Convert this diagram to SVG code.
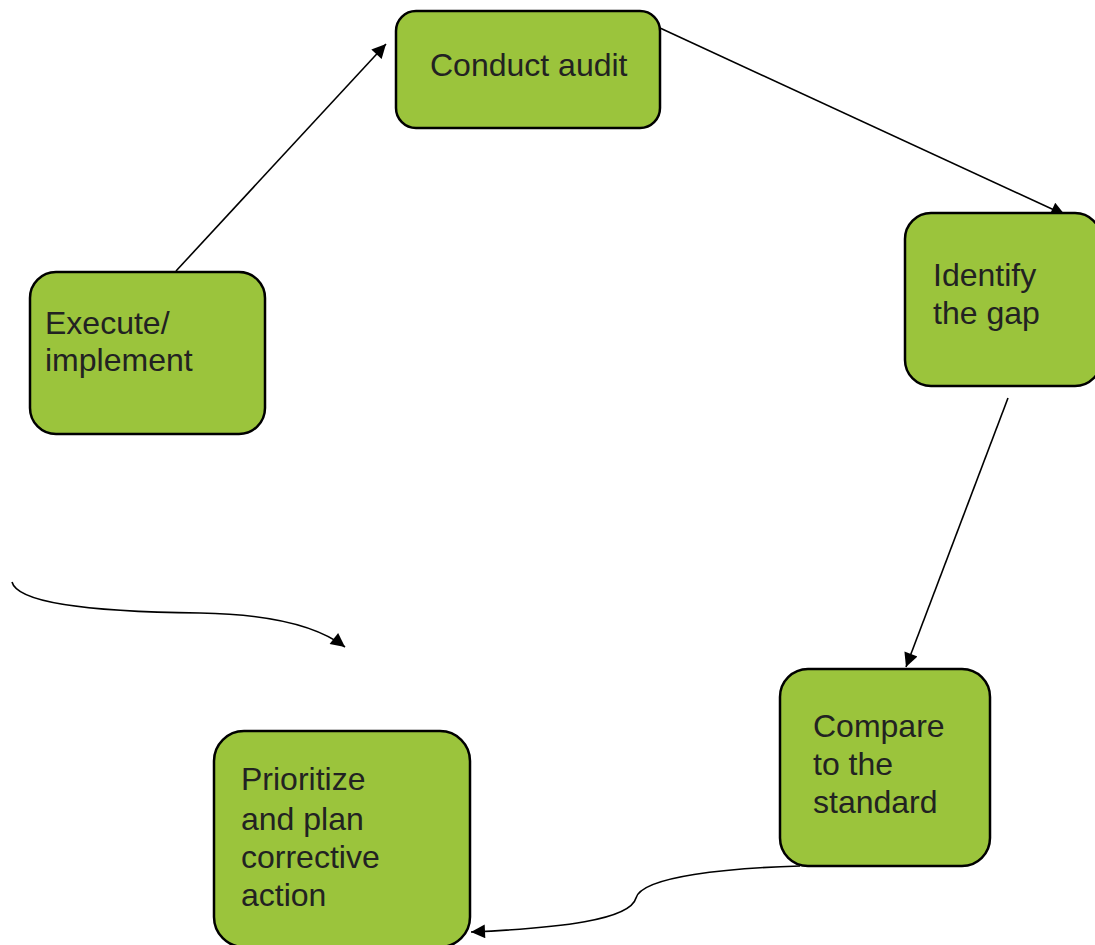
<svg xmlns="http://www.w3.org/2000/svg" width="1095" height="945" viewBox="0 0 1095 945">
<style>
.box{fill:#9bc43c;stroke:#000;stroke-width:2.5}
.lbl{font-family:"Liberation Sans",Arial,sans-serif;font-size:32px;fill:#222}
.con{fill:none;stroke:#000;stroke-width:1.6}
</style>
<defs>
<marker id="ahb" viewBox="0 0 10 10" refX="10" refY="5" markerWidth="16" markerHeight="14" markerUnits="userSpaceOnUse" orient="auto"><path d="M0,0 L10,5 L0,10 z" fill="#000"/></marker>
</defs>
<rect width="1095" height="945" fill="#fff"/>
<g id="connectors">
<path class="con" d="M176,271 L386,44" marker-end="url(#ahb)"/>
<path class="con" d="M660,28 L1065,215" marker-end="url(#ahb)"/>
<path class="con" d="M1008,398 L906,667" marker-end="url(#ahb)"/>
<path class="con" d="M12,582 C18,606 110,612 200,613 C265,614 315,624 345,647" marker-end="url(#ahb)"/>
<path class="con" d="M800,866 C730,868 642,876 636,898 C630,920 560,928 471,932" marker-end="url(#ahb)"/>
</g>
<g id="n1"><rect class="box" x="396" y="11" width="264" height="117" rx="20"/><text class="lbl" x="430" y="76">Conduct audit</text></g>
<g id="n2"><rect class="box" x="905" y="213" width="196" height="173" rx="26"/><text class="lbl" x="933" y="286">Identify</text><text class="lbl" x="933" y="324">the gap</text></g>
<g id="n3"><rect class="box" x="780" y="669" width="210" height="197" rx="28"/><text class="lbl" x="813" y="737">Compare</text><text class="lbl" x="813" y="775">to the</text><text class="lbl" x="813" y="813">standard</text></g>
<g id="n4"><rect class="box" x="214" y="731" width="256" height="216" rx="30"/><text class="lbl" x="241" y="790">Prioritize</text><text class="lbl" x="241" y="830">and plan</text><text class="lbl" x="241" y="868">corrective</text><text class="lbl" x="241" y="906">action</text></g>
<g id="n5"><rect class="box" x="30" y="272" width="235" height="162" rx="26"/><text class="lbl" x="45" y="334">Execute/</text><text class="lbl" x="45" y="371">implement</text></g>
</svg>
